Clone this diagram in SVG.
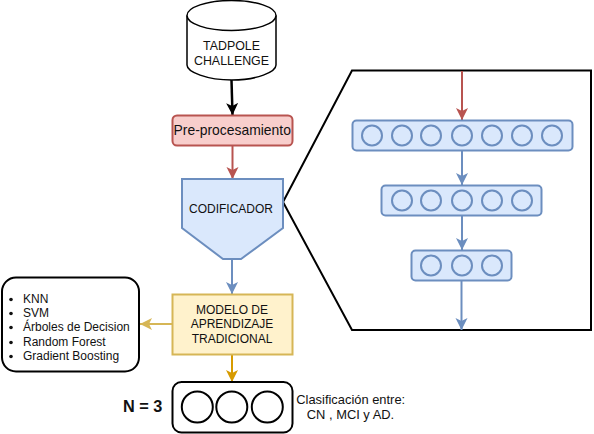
<svg xmlns="http://www.w3.org/2000/svg" width="594" height="434" viewBox="0 0 594 434">
<defs>
<marker id="ak" viewBox="0 0 13 13" markerUnits="userSpaceOnUse" markerWidth="13" markerHeight="13" refX="12" refY="6.500" orient="auto"><path d="M0 0.500L12 6.500L0 12.500L3 6.500Z" fill="#000"/></marker>
<marker id="ar" viewBox="0 0 13 13" markerUnits="userSpaceOnUse" markerWidth="13" markerHeight="13" refX="12" refY="6.500" orient="auto"><path d="M0 0.500L12 6.500L0 12.500L3 6.500Z" fill="#b85450"/></marker>
<marker id="ab" viewBox="0 0 13 13" markerUnits="userSpaceOnUse" markerWidth="13" markerHeight="13" refX="12" refY="6.500" orient="auto"><path d="M0 0.500L12 6.500L0 12.500L3 6.500Z" fill="#6c8ebf"/></marker>
<marker id="ay" viewBox="0 0 13 13" markerUnits="userSpaceOnUse" markerWidth="13" markerHeight="13" refX="12" refY="6.500" orient="auto"><path d="M0 0.500L12 6.500L0 12.500L3 6.500Z" fill="#d6b656"/></marker>
<marker id="ao" viewBox="0 0 13 13" markerUnits="userSpaceOnUse" markerWidth="13" markerHeight="13" refX="12" refY="6.500" orient="auto"><path d="M0 0.500L12 6.500L0 12.500L3 6.500Z" fill="#d79b00"/></marker>
</defs>
<style>
text{font-family:"Liberation Sans",Arial,sans-serif;font-size:12px;fill:#111}
.m{text-anchor:middle}
.bl{fill:#dae8fc;stroke:#6c8ebf;stroke-width:2}
.k{fill:#fff;stroke:#000;stroke-width:2}
.c{fill:none;stroke-width:2}
</style>
<g id="zoom-outline"><path d="M283 202L352 70.500H591V330H352Z" fill="#fff" stroke="#000" stroke-width="2"/></g>
<g id="connectors">
<path class="c" stroke="#000" stroke-width="2.500" style="stroke-width:2.500" d="M231.500 80L232.500 115" marker-end="url(#ak)"/>
<path class="c" stroke="#b85450" d="M232.500 146L232.500 179" marker-end="url(#ar)"/>
<path class="c" stroke="#6c8ebf" d="M232 258L232 294" marker-end="url(#ab)"/>
<path class="c" stroke="#d6b656" d="M172 324L140 324" marker-end="url(#ay)"/>
<path class="c" stroke="#d79b00" d="M232 355L232 382" marker-end="url(#ao)"/>
<path class="c" stroke="#b85450" d="M462 71L462 120" marker-end="url(#ar)"/>
<path class="c" stroke="#6c8ebf" d="M462 151L462 185" marker-end="url(#ab)"/>
<path class="c" stroke="#6c8ebf" d="M462 216L462 250" marker-end="url(#ab)"/>
<path class="c" stroke="#6c8ebf" d="M461.500 281L461.500 330" marker-end="url(#ab)"/>
</g>
<g id="tadpole">
<path d="M187 15.500V65C187 72 207 80 232 80S276 72 276 65V15.500" fill="#fff" stroke="#000" stroke-width="1.500"/>
<ellipse cx="231.500" cy="15.500" rx="44.500" ry="15" fill="#fff" stroke="#000" stroke-width="1.500"/>
<text class="m" x="231.500" y="50" style="font-size:12.400px">TADPOLE</text><text class="m" x="231.500" y="65" style="font-size:12.400px">CHALLENGE</text>
</g>
<g id="preprocesamiento">
<rect x="172.500" y="115.500" width="120" height="30" rx="4.500" fill="#f8cecc" stroke="#b85450" stroke-width="2"/>
<text class="m" x="232.200" y="135" style="font-size:13.900px">Pre-procesamiento</text>
</g>
<g id="codificador">
<path class="bl" d="M182 179H283V228L241 259H223L182 228Z"/>
<text class="m" x="231" y="213">CODIFICADOR</text>
</g>
<g id="modelo">
<rect x="172.500" y="294.500" width="120" height="60" fill="#fff2cc" stroke="#d6b656" stroke-width="2"/>
<text class="m" x="232" y="314">MODELO DE</text><text class="m" x="232" y="328">APRENDIZAJE</text><text class="m" x="232" y="343">TRADICIONAL</text>
</g>
<g id="algoritmos">
<rect x="2" y="277.500" width="137" height="94" rx="14" class="k"/>
<g fill="#111"><circle cx="11" cy="299.500" r="1.800"/><circle cx="11" cy="313.500" r="1.800"/><circle cx="11" cy="327.500" r="1.800"/><circle cx="11" cy="342.500" r="1.800"/><circle cx="11" cy="356.500" r="1.800"/></g>
<text x="23" y="303">KNN</text><text x="23" y="317">SVM</text><text x="23" y="331">Árboles de Decision</text><text x="23" y="346">Random Forest</text><text x="23" y="360">Gradient Boosting</text>
</g>
<g id="salida">
<rect x="172.500" y="382" width="120" height="50.500" rx="9" class="k"/>
<circle cx="197.300" cy="407" r="15.500" class="k"/><circle cx="231.800" cy="407" r="15.500" class="k"/><circle cx="267.300" cy="407" r="15.500" class="k"/>
</g>
<g id="n3"><text x="123" y="412" style="font-size:16.300px;font-weight:bold">N = 3</text></g>
<g id="clasificacion"><text class="m" x="350.700" y="403.500" style="font-size:12.900px">Clasificación entre:</text><text class="m" x="350.500" y="418.500" style="font-size:12.900px">CN , MCI y AD.</text></g>
<g id="capa1">
<rect x="352.500" y="120.500" width="220" height="30" rx="4" class="bl"/>
<circle cx="372" cy="135.500" r="10" class="bl"/><circle cx="402" cy="135.500" r="10" class="bl"/><circle cx="431" cy="135.500" r="10" class="bl"/><circle cx="462" cy="135.500" r="10" class="bl"/><circle cx="492" cy="135.500" r="10" class="bl"/><circle cx="522" cy="135.500" r="10" class="bl"/><circle cx="552" cy="135.500" r="10" class="bl"/>
</g>
<g id="capa2">
<rect x="381.500" y="185.500" width="160" height="30" rx="4" class="bl"/>
<circle cx="402" cy="200.500" r="10" class="bl"/><circle cx="431" cy="200.500" r="10" class="bl"/><circle cx="462" cy="200.500" r="10" class="bl"/><circle cx="492" cy="200.500" r="10" class="bl"/><circle cx="522" cy="200.500" r="10" class="bl"/>
</g>
<g id="capa3">
<rect x="411.500" y="250.500" width="100" height="30" rx="4" class="bl"/>
<circle cx="431" cy="265.500" r="10" class="bl"/><circle cx="462" cy="265.500" r="10" class="bl"/><circle cx="492" cy="265.500" r="10" class="bl"/>
</g>
</svg>
